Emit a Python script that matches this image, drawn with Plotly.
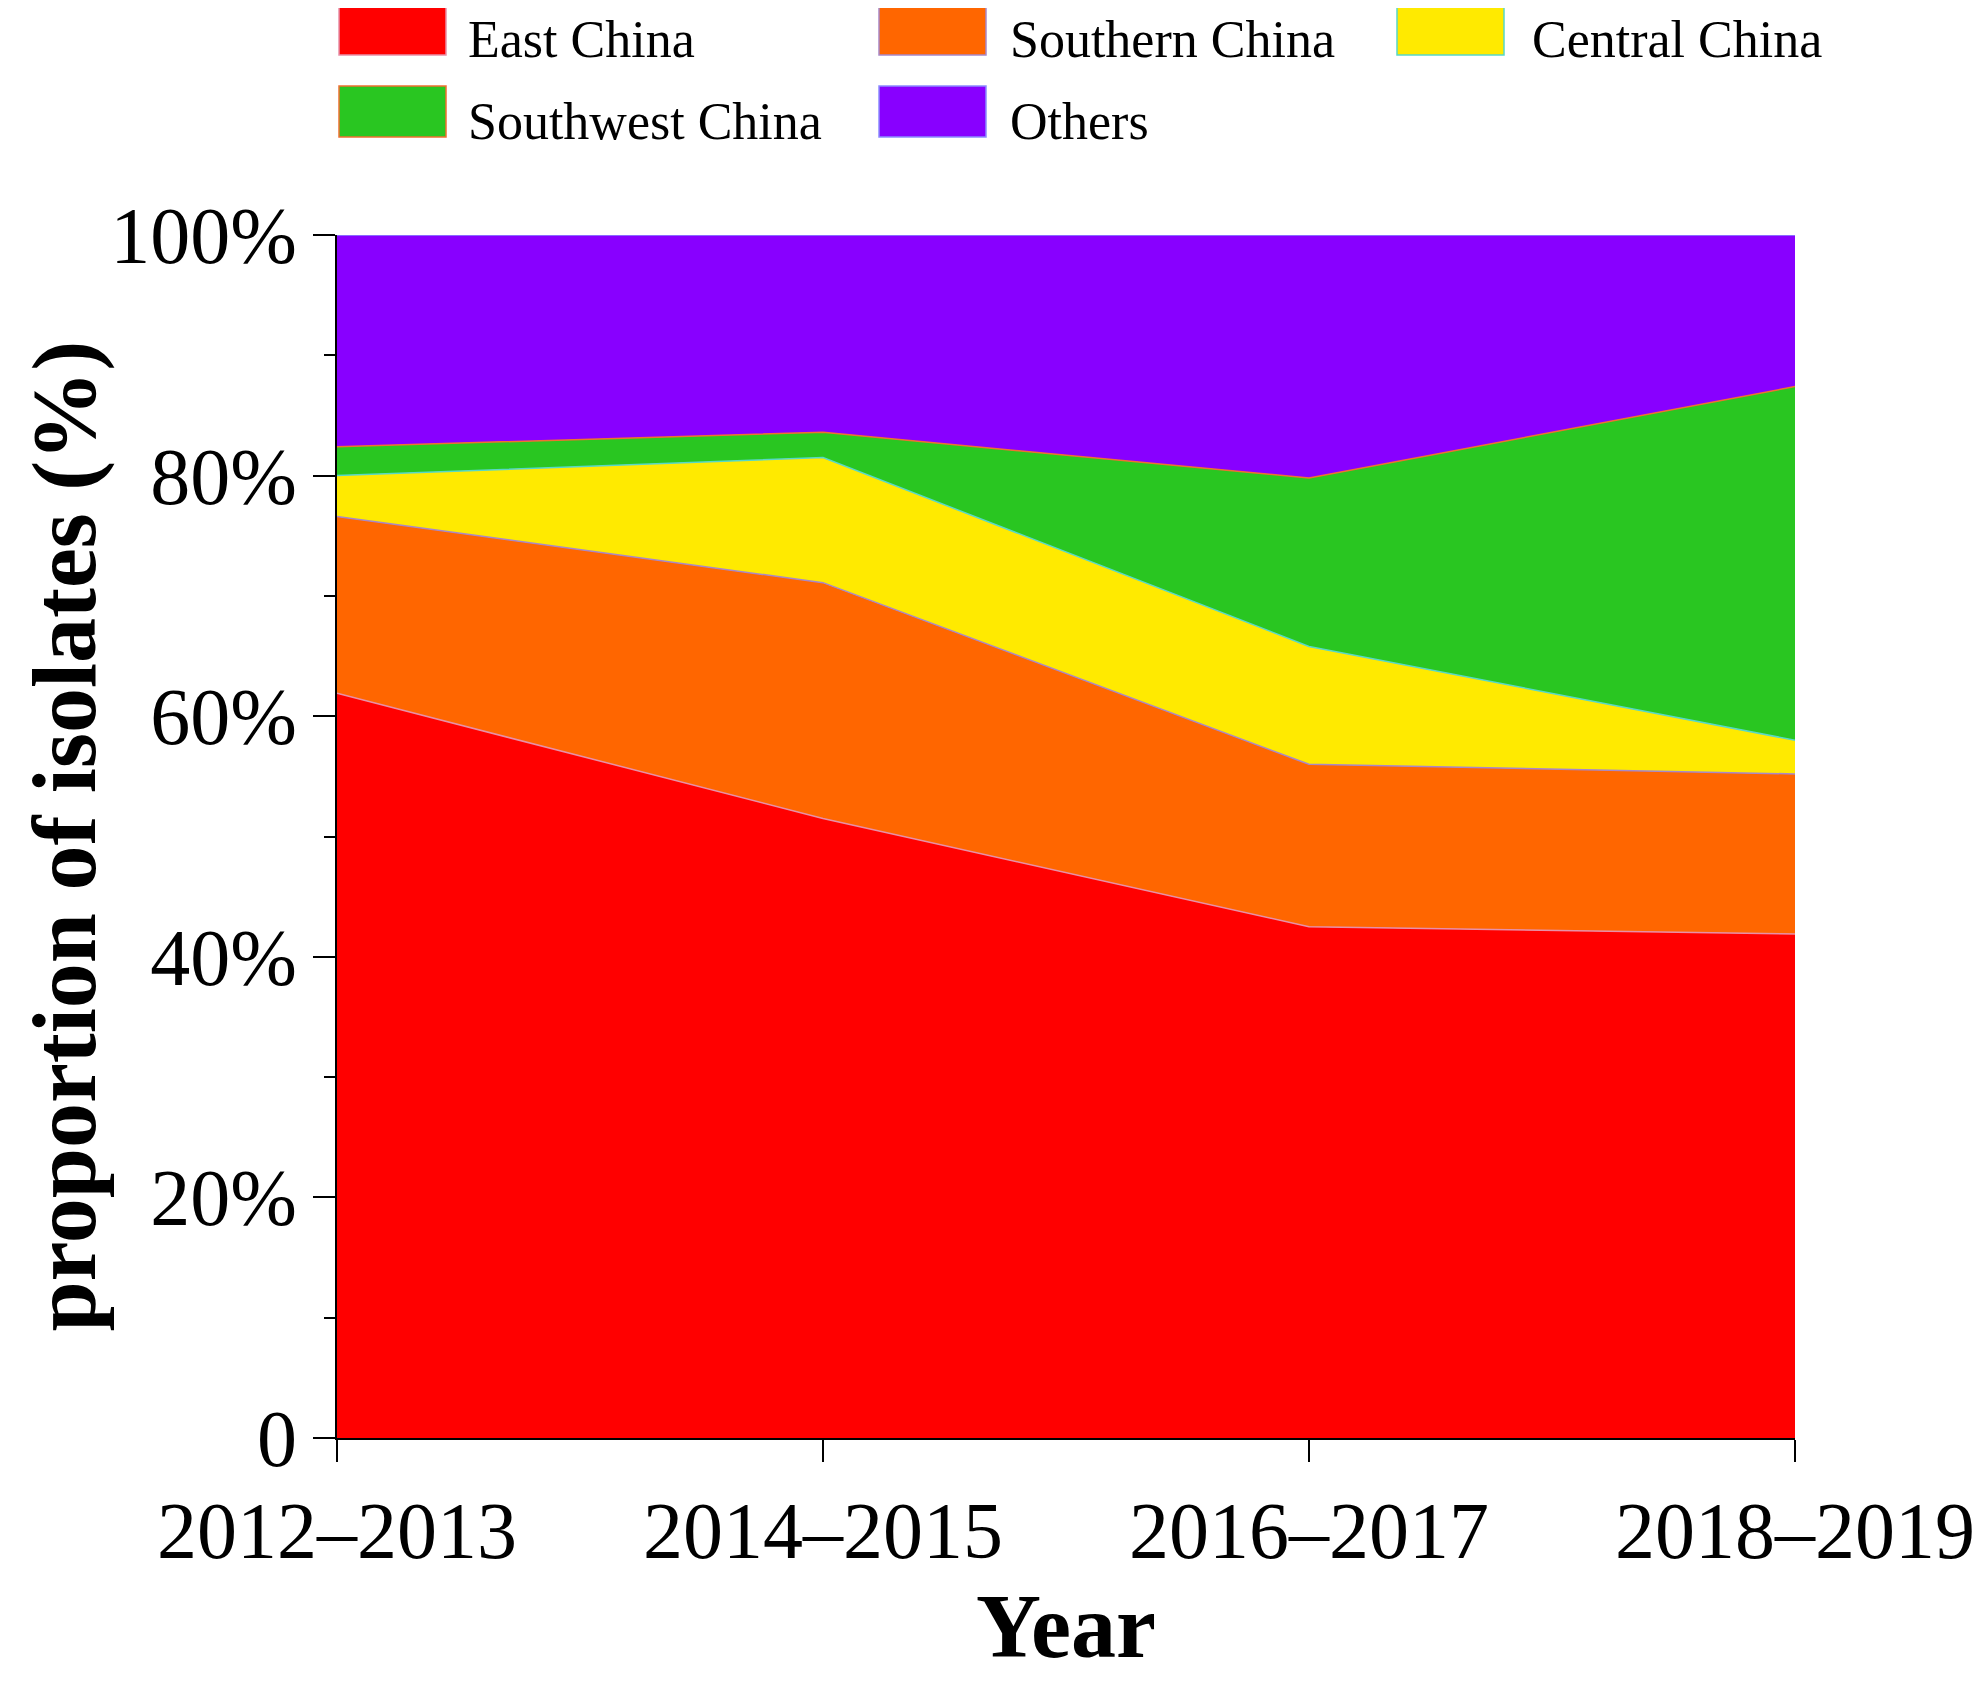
import plotly.graph_objects as go

# ---- data ----
years = ["2012–2013", "2014–2015", "2016–2017", "2018–2019"]
east_china = [61.9, 51.5, 42.5, 41.9]
southern_china = [14.7, 19.6, 13.5, 13.3]
central_china = [3.4, 10.4, 9.8, 2.8]
southwest_china = [2.4, 2.1, 14.0, 29.4]
others = [17.6, 16.4, 20.2, 12.6]

series_names = ["East China", "Southern China", "Central China", "Southwest China", "Others"]
series_values = [east_china, southern_china, central_china, southwest_china, others]
fill_colors = ["#FF0000", "#FF6600", "#FFEA00", "#29C621", "#8800FF"]
line_colors = ["#E890A8", "#A888C8", "#58D8C8", "#F07030", "#8C8CFF"]

ytick_vals = [0, 20, 40, 60, 80, 100]
ytick_text = ["0", "20%", "40%", "60%", "80%", "100%"]

FONT = "Liberation Serif"
OFF = 8  # default page body margin
W, H = 1982, 1689 - 2 * OFF
# plot area in reference pixels, converted to figure pixels
L, R, T, B = 337 - OFF, 1795 - OFF, 235 - OFF, 1438 - OFF

fig = go.Figure()
for name, vals, fc, lc in zip(series_names, series_values, fill_colors, line_colors):
    fig.add_trace(go.Scatter(
        x=years, y=vals, name=name, mode="lines",
        stackgroup="one", fillcolor=fc,
        line=dict(color=lc, width=1.5),
        showlegend=False,
    ))

def px_x(p):
    return (p - OFF - L) / (R - L)

def px_y(p):
    return (B - (p - OFF)) / (B - T)

# manual legend (large swatches as in the reference)
legend_slots = [
    (339, 4, 466),     # East China
    (879, 4, 1008),    # Southern China
    (1397, 4, 1530),   # Central China
    (339, 86, 466),    # Southwest China
    (879, 86, 1008),   # Others
]
sw_w, sw_h = 107, 51
for (sx, sy, tx), name, fc, lc in zip(legend_slots, series_names, fill_colors, line_colors):
    fig.add_shape(type="rect", xref="paper", yref="paper",
                  x0=px_x(sx), x1=px_x(sx + sw_w), y0=px_y(sy + sw_h), y1=px_y(sy),
                  fillcolor=fc, line=dict(color=lc, width=1.5))
    fig.add_annotation(xref="paper", yref="paper", x=px_x(tx), y=px_y(sy + sw_h / 2 + 10),
                       text=name, showarrow=False, xanchor="left", yanchor="middle",
                       font=dict(family=FONT, size=52, color="black"))

# axis titles
fig.add_annotation(xref="paper", yref="paper", x=px_x(64), y=0.5,
                   text="proportion of isolates (%)", textangle=-90, showarrow=False,
                   xanchor="center", yanchor="middle",
                   font=dict(family=FONT, size=90, color="black", weight="bold"))
fig.add_annotation(xref="paper", yref="paper", x=0.5, y=px_y(1626),
                   text="Year", showarrow=False, xanchor="center", yanchor="middle",
                   font=dict(family=FONT, size=90, color="black", weight="bold"))

fig.update_xaxes(
    type="category", range=[0, 3], showgrid=False, zeroline=False,
    showline=True, linecolor="black", linewidth=2,
    ticks="outside", ticklen=22, tickwidth=2, tickcolor="black",
    tickfont=dict(family=FONT, size=80, color="black"),
)
fig.update_yaxes(
    range=[0, 100], showgrid=False, zeroline=False,
    showline=True, linecolor="black", linewidth=2,
    tickvals=ytick_vals, ticktext=ytick_text,
    ticks="outside", ticklen=22, tickwidth=2, tickcolor="black",
    minor=dict(dtick=10, ticks="outside", ticklen=11, tickwidth=2, tickcolor="black"),
    tickfont=dict(family=FONT, size=80, color="black"),
)
fig.update_layout(
    width=W, height=H,
    margin=dict(l=L, r=W - R, t=T, b=H - B),
    paper_bgcolor="white", plot_bgcolor="white",
    font=dict(family=FONT, color="black"),
)
fig.write_html("out.html")
